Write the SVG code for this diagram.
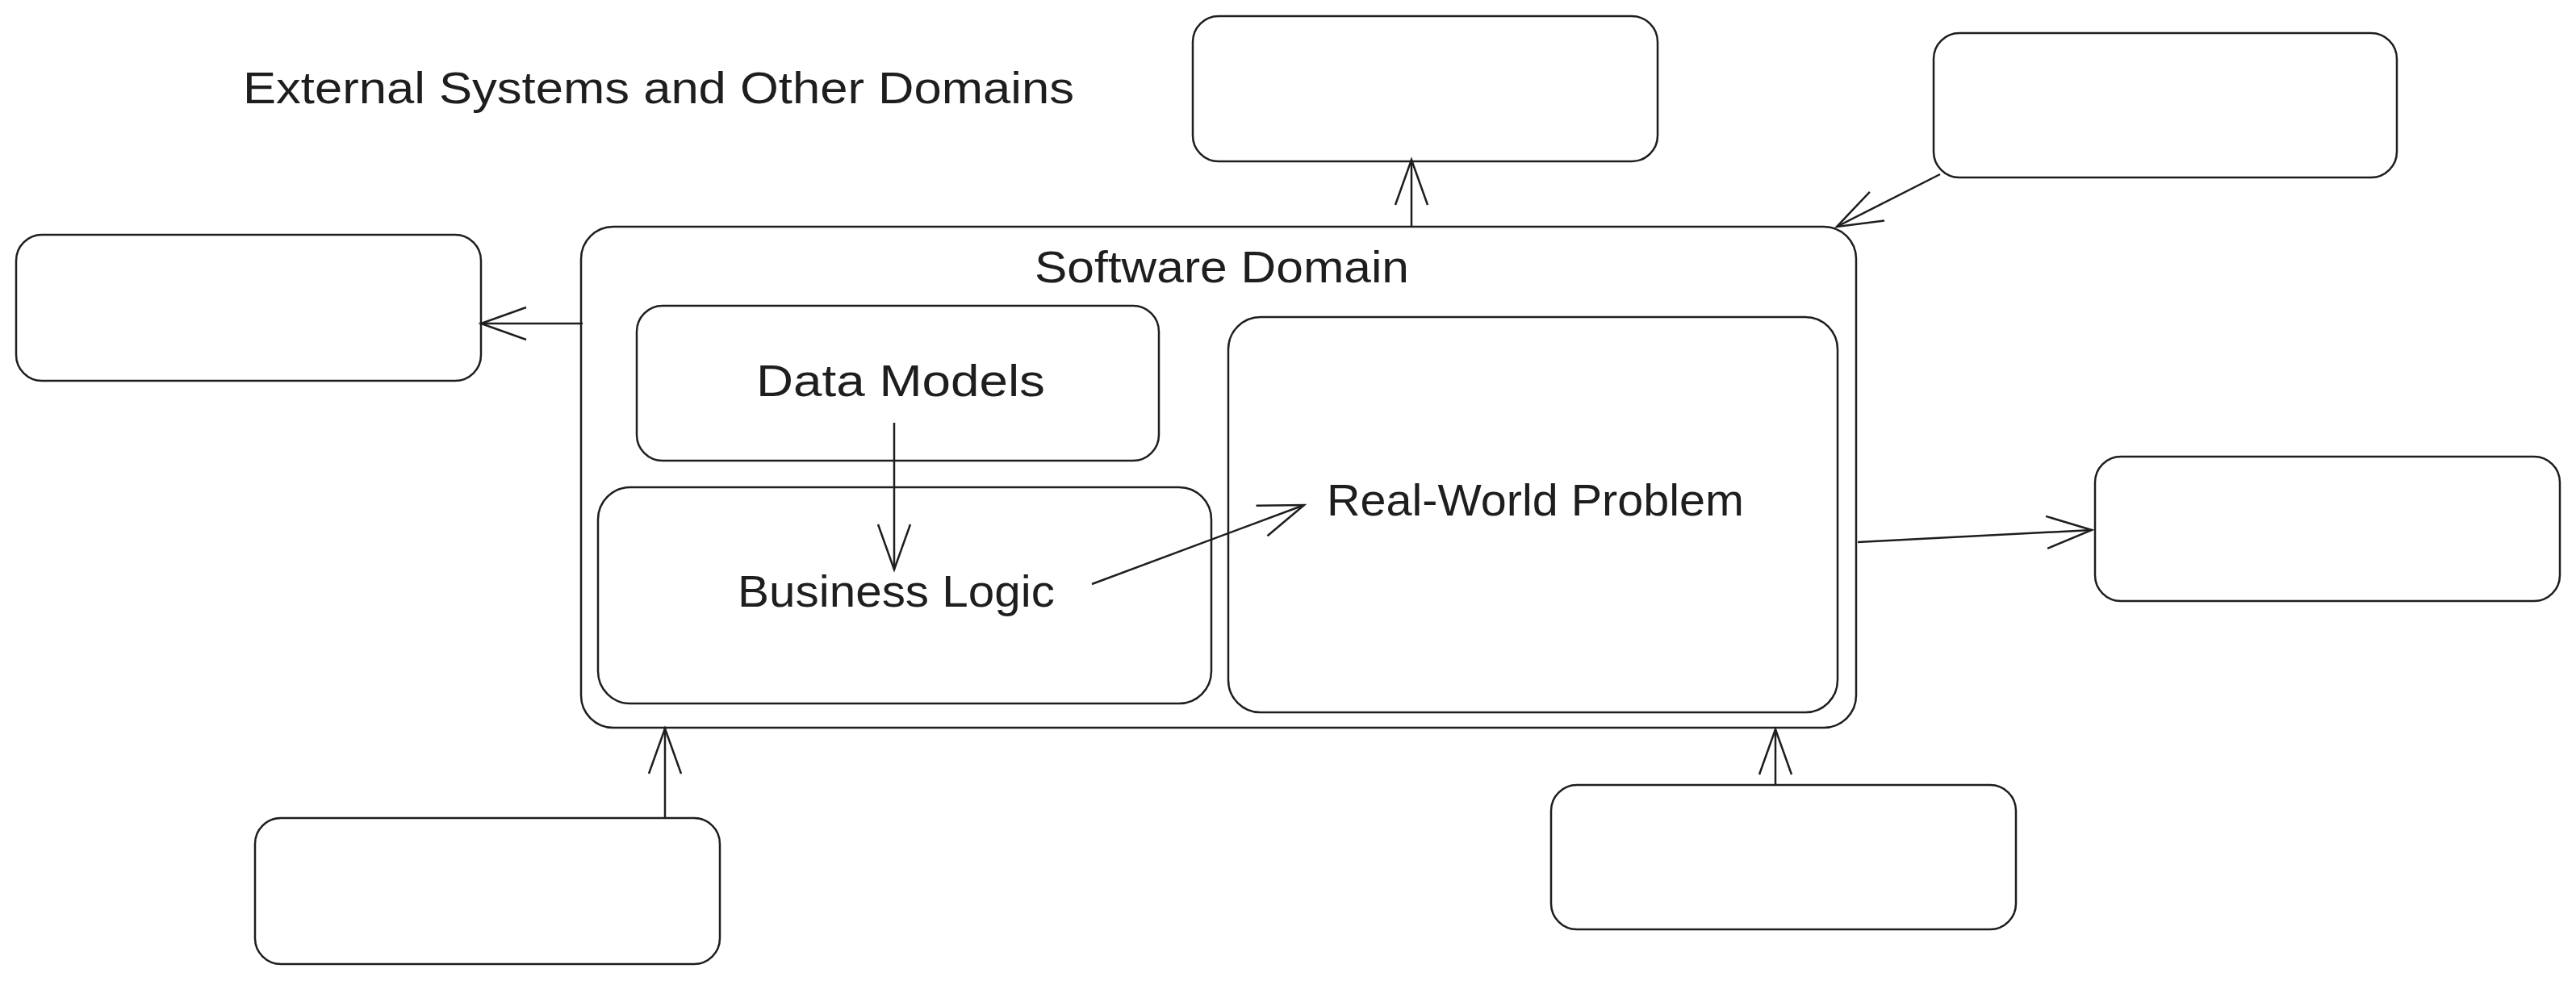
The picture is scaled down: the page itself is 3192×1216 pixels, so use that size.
<svg xmlns="http://www.w3.org/2000/svg" width="3192" height="1216" viewBox="0 0 3192 1216">
<style>
.box{fill:#ffffff;stroke:#1e1e1e;stroke-width:2.5}
.lbl{font-family:"Liberation Sans",Arial,sans-serif;font-size:56px;fill:#1e1e1e}
.conn{fill:none;stroke:#1e1e1e;stroke-width:2.5}
</style>
<defs>
<marker id="arr" markerUnits="userSpaceOnUse" markerWidth="64" markerHeight="48" refX="58" refY="22" orient="auto">
<path d="M2,2 L58,22 L2,42" fill="none" stroke="#1e1e1e" stroke-width="2.5"/>
</marker>
</defs>
<rect width="3192" height="1216" fill="#ffffff"/>
<text id="title" class="lbl" x="301" y="128" textLength="1030" lengthAdjust="spacingAndGlyphs">External Systems and Other Domains</text>
<g id="software-domain">
<rect class="box" x="720" y="281" width="1580" height="621" rx="40"/>
<text class="lbl" x="1282" y="350" textLength="464" lengthAdjust="spacingAndGlyphs">Software Domain</text>
</g>
<g id="data-models">
<rect class="box" x="789" y="379" width="647" height="192" rx="32"/>
<text class="lbl" x="937" y="491" textLength="358" lengthAdjust="spacingAndGlyphs">Data Models</text>
</g>
<g id="business-logic">
<rect class="box" x="741" y="604" width="760" height="268" rx="40"/>
<text class="lbl" x="914" y="752" textLength="393" lengthAdjust="spacingAndGlyphs">Business Logic</text>
</g>
<g id="real-world-problem">
<rect class="box" x="1522" y="393" width="755" height="490" rx="40"/>
<text class="lbl" x="1644" y="639" textLength="517" lengthAdjust="spacingAndGlyphs">Real-World Problem</text>
</g>
<g id="ext-top"><rect class="box" x="1478" y="20" width="576" height="180" rx="32"/></g>
<g id="ext-top-right"><rect class="box" x="2396" y="41" width="574" height="179" rx="32"/></g>
<g id="ext-left"><rect class="box" x="20" y="291" width="576" height="181" rx="32"/></g>
<g id="ext-right"><rect class="box" x="2596" y="566" width="576" height="179" rx="32"/></g>
<g id="ext-bottom-left"><rect class="box" x="316" y="1014" width="576" height="181" rx="32"/></g>
<g id="ext-bottom-right"><rect class="box" x="1922" y="973" width="576" height="179" rx="32"/></g>
<g id="connectors">
<path class="conn" d="M1749,281 L1749,198" marker-end="url(#arr)"/>
<path class="conn" d="M2404,216 L2276,281" marker-end="url(#arr)"/>
<path class="conn" d="M722,401 L596,401" marker-end="url(#arr)"/>
<path class="conn" d="M2302,672 L2592,657" marker-end="url(#arr)"/>
<path class="conn" d="M824,1014 L824,903" marker-end="url(#arr)"/>
<path class="conn" d="M2200,973 L2200,904" marker-end="url(#arr)"/>
<path class="conn" d="M1108,524 L1108,706" marker-end="url(#arr)"/>
<path class="conn" d="M1353,724 L1616,626" marker-end="url(#arr)"/>
</g>
</svg>
